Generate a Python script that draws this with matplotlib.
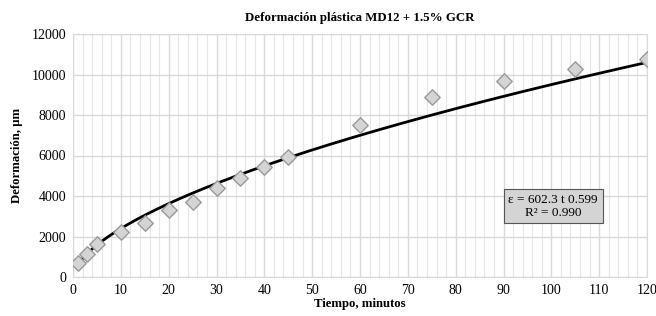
import numpy as np
import matplotlib
matplotlib.use("Agg")
import matplotlib.pyplot as plt
from matplotlib.ticker import MultipleLocator

# measured points
tiempo = [1, 3, 5, 10, 15, 20, 25, 30, 35, 40, 45, 60, 75, 90, 105, 120]
deformacion = [700, 1150, 1650, 2200, 2650, 3300, 3700, 4400, 4900, 5450,
               5950, 7500, 8900, 9700, 10250, 10750]

# power-law trend line as reported on the chart
coef_a = 602.3
coef_b = 0.599
r2 = 0.990

plt.rcParams["font.family"] = ["Liberation Serif", "DejaVu Serif"]

fig = plt.figure(figsize=(6.56, 3.16), dpi=100)
ax = fig.add_axes([73 / 656, 1 - 277 / 316, 574 / 656, 243 / 316])

t_fit = np.linspace(min(tiempo), max(tiempo), 300)
ax.plot(t_fit, coef_a * t_fit ** coef_b, color="black", lw=2.0, zorder=3)
ax.scatter(tiempo, deformacion, marker="D", s=62, facecolor="#d4d4d4",
           edgecolor="#9a9a9a", linewidth=1.0, zorder=4)

ax.set_xlim(0, 120)
ax.set_ylim(0, 12000)
ax.xaxis.set_major_locator(MultipleLocator(10))
ax.xaxis.set_minor_locator(MultipleLocator(2))
ax.yaxis.set_major_locator(MultipleLocator(2000))
ax.grid(True, which="major", color="#d9d9d9", lw=1.0)
ax.grid(True, which="minor", axis="x", color="#e6e6e6", lw=0.8)
ax.set_axisbelow(True)
for s in ax.spines.values():
    s.set_color("#d9d9d9")
ax.tick_params(which="both", length=0, labelsize=10, pad=5)

ax.set_title("Deformación plástica MD12 + 1.5% GCR", fontsize=9.3,
             fontweight="bold", pad=9)
ax.set_xlabel("Tiempo, minutos", fontsize=9.2, fontweight="bold", labelpad=1)
ax.set_ylabel("Deformación, µm", fontsize=9.2, fontweight="bold", labelpad=6)

ax.text(100.4, 3500, f"ε = {coef_a} t {coef_b}\nR² = {r2:.3f}",
        ha="center", va="center", fontsize=9.5, linespacing=1.1,
        bbox=dict(boxstyle="square,pad=0.35", facecolor="#d4d4d4",
                  edgecolor="#555555", linewidth=0.8), zorder=5)

fig.savefig("out.png", dpi=100)
